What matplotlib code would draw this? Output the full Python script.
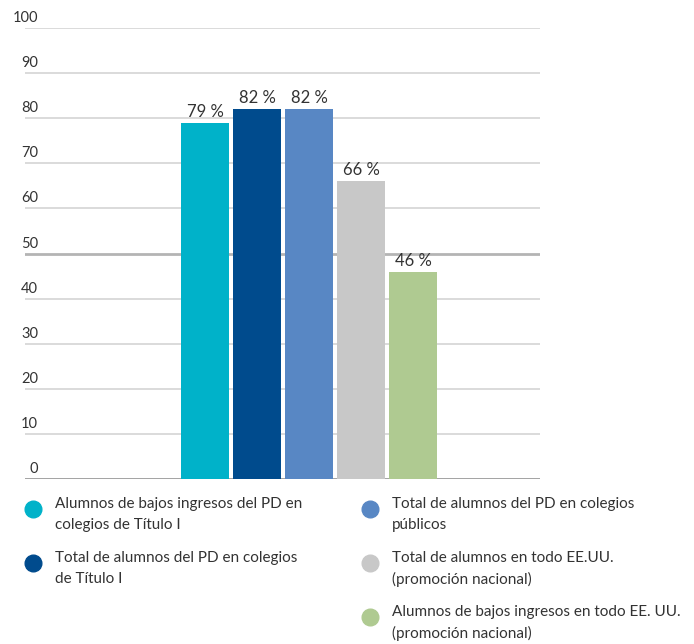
import matplotlib.pyplot as plt
from matplotlib.lines import Line2D

categories = [
    "Alumnos de bajos ingresos del PD en\ncolegios de Título I",
    "Total de alumnos del PD en colegios\nde Título I",
    "Total de alumnos del PD en colegios\npúblicos",
    "Total de alumnos en todo EE.UU.\n(promoción nacional)",
    "Alumnos de bajos ingresos en todo EE. UU.\n(promoción nacional)",
]
values = [79, 82, 82, 66, 46]
colors = ["#00b2c9", "#004b8d", "#5887c4", "#c8c8c8", "#afca91"]
y_ticks = [0, 10, 20, 30, 40, 50, 60, 70, 80, 90, 100]

plt.rcParams["font.family"] = ["Lato", "DejaVu Sans"]
text_color = "#333333"

fig = plt.figure(figsize=(6.94, 6.44), dpi=100)
ax = fig.add_axes([25 / 694, 165 / 644, 515 / 694, 451 / 644])
ax.set_xlim(-3.46, 6.44)
ax.set_ylim(0, 100)
ax.axis("off")

for t in y_ticks:
    if t == 0:
        color, lw = "#9a9a9a", 2.0
    elif t == 50:
        color, lw = "#b4b4b4", 2.0
    else:
        color, lw = "#d4d4d4", 1.2
    ax.axhline(t, color=color, linewidth=lw, zorder=1)
    ax.annotate(str(t), xy=(0, t), xycoords=("axes fraction", "data"),
                xytext=(13, 3), textcoords="offset pixels",
                ha="right", va="bottom", fontsize=10.5, color=text_color)

x = list(range(len(values)))
bars = ax.bar(x, values, width=0.923, color=colors, zorder=2)
for xi, v in zip(x, values):
    ax.annotate(f"{v} %", xy=(xi, v), xytext=(0, 3), textcoords="offset pixels",
                ha="center", va="bottom", fontsize=12, color=text_color)

# legend drawn by hand in two columns
legend_pos = [(33, 509), (33, 563), (370, 509), (370, 563), (370, 617)]
for (px, py), label, color in zip(legend_pos, categories, colors):
    fx, fy = px / 694, 1 - py / 644
    fig.add_artist(Line2D([fx], [fy], marker="o", markersize=12, color=color,
                          linestyle="none", transform=fig.transFigure))
    fig.text(fx + 22 / 694, fy + 12 / 644, label, ha="left", va="top",
             fontsize=11, color=text_color, linespacing=1.6)

fig.savefig("out.png", dpi=100)
